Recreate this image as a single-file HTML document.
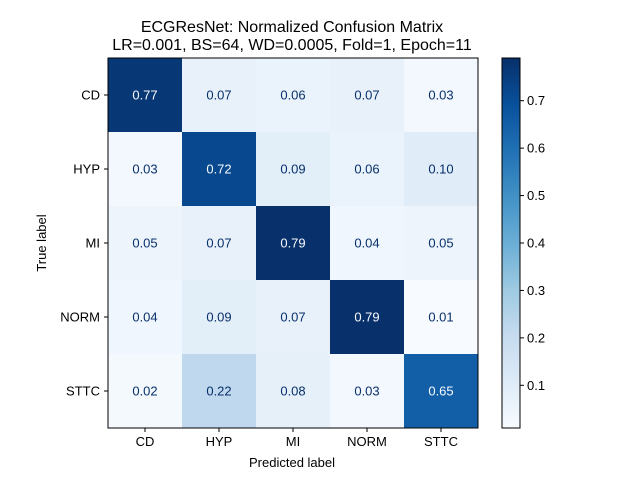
<!DOCTYPE html>
<html><head><meta charset="utf-8"><style>
body{margin:0;background:#fff;}
svg{font-family:"Liberation Sans","DejaVu Sans",sans-serif;}
</style></head><body>
<svg id="chart" width="640" height="480" viewBox="0 0 640 480">
<text x="292" y="32" font-size="16" text-anchor="middle">ECGResNet: Normalized Confusion Matrix</text>
<text x="292" y="50" font-size="16" text-anchor="middle">LR=0.001, BS=64, WD=0.0005, Fold=1, Epoch=11</text>
<g id="cells"></g>
<g id="axes"></g>
<g id="cbar"></g>
<text x="292" y="467" font-size="13" text-anchor="middle">Predicted label</text>
<text x="46" y="243" font-size="13" text-anchor="middle" transform="rotate(-90 46 243)">True label</text>
</svg>
<script>
const labels = ["CD","HYP","MI","NORM","STTC"];
const row0 = [0.77,0.07,0.06,0.07,0.03];
const row1 = [0.03,0.72,0.09,0.06,0.10];
const row2 = [0.05,0.07,0.79,0.04,0.05];
const row3 = [0.04,0.09,0.07,0.79,0.01];
const row4 = [0.02,0.22,0.08,0.03,0.65];
const cbarTicks = [0.1,0.2,0.3,0.4,0.5,0.6,0.7];

const matrix=[row0,row1,row2,row3,row4];
const NS="http://www.w3.org/2000/svg";
const X0=108,Y0=58,W=370,H=370,n=labels.length,cw=W/n,ch=H/n;
const flat=matrix.flat();
const vmin=Math.min(...flat),vmax=Math.max(...flat);
const stops=["#f7fbff","#deebf7","#c6dbef","#9ecae1","#6baed6","#4292c6","#2171b5","#08519c","#08306b"];
function hex(h){return [1,3,5].map(i=>parseInt(h.substr(i,2),16));}
function cmap(t){t=Math.max(0,Math.min(1,t));const p=t*(stops.length-1),i=Math.min(Math.floor(p),stops.length-2),f=p-i;
const a=hex(stops[i]),b=hex(stops[i+1]);return "rgb("+a.map((v,k)=>Math.round(v+(b[k]-v)*f)).join(",")+")";}
function norm(v){return (v-vmin)/(vmax-vmin);}
function el(tag,attrs,parent){const e=document.createElementNS(NS,tag);for(const k in attrs)e.setAttribute(k,attrs[k]);parent.appendChild(e);return e;}
const cells=document.getElementById('cells'),axes=document.getElementById('axes'),cbar=document.getElementById('cbar');
const thresh=(vmin+vmax)/2;
matrix.forEach((row,r)=>row.forEach((v,c)=>{
 const rc=el('rect',{x:X0+c*cw,y:Y0+r*ch,width:cw+0.5,height:ch+0.5,fill:cmap(norm(v))},cells);
 
 
 const t=el('text',{x:X0+(c+0.5)*cw,y:Y0+(r+0.5)*ch+4.5,'font-size':13,'text-anchor':'middle',fill:v<thresh?"#08306b":"#f7fbff"},cells);
 t.textContent=v.toFixed(2);
 
 
}));
const fr=el('rect',{x:X0,y:Y0,width:W,height:H,fill:'none',stroke:'#000','stroke-width':1},axes);


labels.forEach((l,i)=>{
 const cx=X0+(i+0.5)*cw;
 el('line',{x1:cx,y1:Y0+H,x2:cx,y2:Y0+H+4,stroke:'#000'},axes);
 const tx=el('text',{x:cx,y:Y0+H+18,'font-size':13,'text-anchor':'middle'},axes);tx.textContent=l;
 
 
 const cy=Y0+(i+0.5)*ch;
 el('line',{x1:X0-4,y1:cy,x2:X0,y2:cy,stroke:'#000'},axes);
 const ty=el('text',{x:X0-8,y:cy+4.5,'font-size':13,'text-anchor':'end'},axes);ty.textContent=l;
 
 
});
// colorbar
const CX=502,CW=18,CY=Y0,CH=H;
for(let k=0;k<CH;k++){el('rect',{x:CX,y:CY+k,width:CW,height:1.2,fill:cmap(1-k/CH)},cbar);}
const cf=el('rect',{x:CX,y:CY,width:CW,height:CH,fill:'none',stroke:'#000'},cbar);


function cby(v){return CY+CH-(v-vmin)/(vmax-vmin)*CH;}
cbarTicks.forEach(v=>{
 const y=cby(v);
 el('line',{x1:CX+CW,y1:y,x2:CX+CW+4,y2:y,stroke:'#000'},cbar);
 const t=el('text',{x:CX+CW+7,y:y+4.5,'font-size':13},cbar);t.textContent=v.toFixed(1);
 
 
});
</script>
</body></html>
